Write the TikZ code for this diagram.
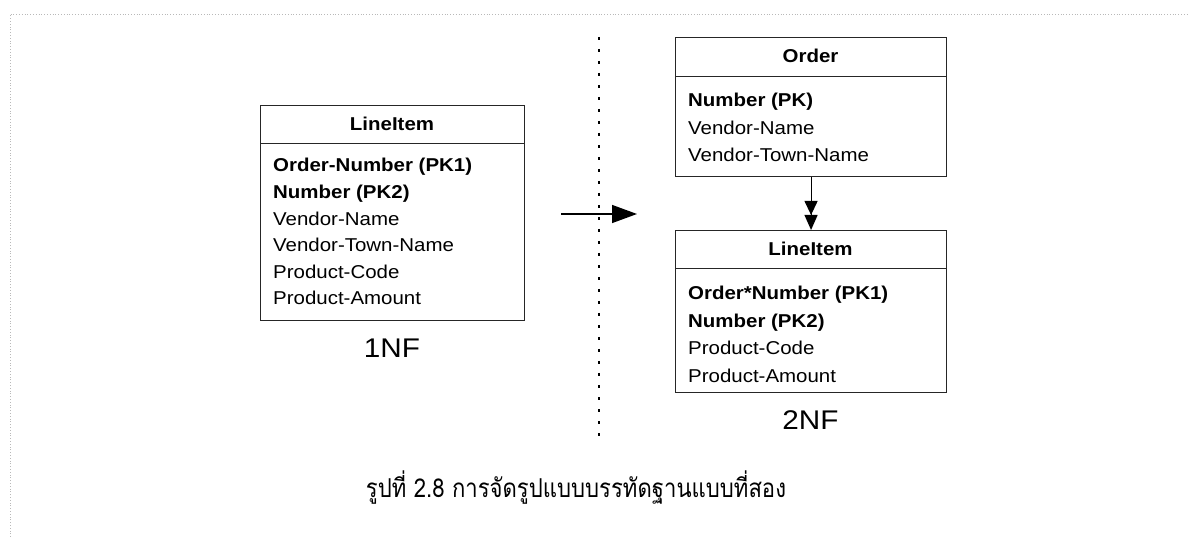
\documentclass[tikz,border=0pt]{standalone}
\usepackage{fontspec}
\setmainfont{Liberation Sans}[FakeStretch=1.1]
\newfontfamily\thaifont[Script=Thai,FakeStretch=0.85]{Loma}
\usetikzlibrary{arrows.meta}
\tikzset{
  tbl/.style={draw=black!85, line width=1.1pt, inner sep=0pt, anchor=north west, minimum width=#1},
  row/.style={anchor=base west, inner sep=0pt, font=\fontsize{18.6}{22}\selectfont},
  rowb/.style={anchor=base west, inner sep=0pt, font=\bfseries\fontsize{18.6}{22}\selectfont},
  title/.style={anchor=base, inner sep=0pt, font=\bfseries\fontsize{18.6}{22}\selectfont},
  nf/.style={anchor=base, inner sep=0pt, font=\fontsize{27}{30}\selectfont},
}
\begin{document}
\begin{tikzpicture}[x=1pt,y=-1pt]
\useasboundingbox (0,0) rectangle (1189,537);
% page border
\draw[gray!55, dotted, line width=0.8pt] (10,537) -- (10,14) -- (1189,14);
% divider
\draw[line width=2.4pt, dash pattern=on 2.8pt off 9.2pt] (599,37) -- (599,437);

% Left table
\node[tbl=264pt, minimum height=38pt] (Lh) at (260,105) {};
\node[tbl=264pt, minimum height=177pt] (Lb) at (260,143) {};
\node[title] (LhT) at (392,131) {LineItem};
\node[rowb] (l1) at (273,172) {Order-Number (PK1)};
\node[rowb] (l2) at (273,198.6) {Number (PK2)};
\node[row] (l3) at (273,225.2) {Vendor-Name};
\node[row] (l4) at (273,251.8) {Vendor-Town-Name};
\node[row] (l5) at (273,278.4) {Product-Code};
\node[row] (l6) at (273,305) {Product-Amount};
\node[nf] (n1) at (392,358) {1NF};

% Order table
\node[tbl=271pt, minimum height=39pt] (Oh) at (675,37) {};
\node[tbl=271pt, minimum height=100pt] (Ob) at (675,76) {};
\node[title] (OhT) at (810.5,63) {Order};
\node[rowb] (o1) at (688,107) {Number (PK)};
\node[row] (o2) at (688,134.5) {Vendor-Name};
\node[row] (o3) at (688,162) {Vendor-Town-Name};

% Right LineItem table
\node[tbl=271pt, minimum height=38pt] (Rh) at (675,230) {};
\node[tbl=271pt, minimum height=124pt] (Rb) at (675,268) {};
\node[title] (RhT) at (810.5,256) {LineItem};
\node[rowb] (r1) at (688,300) {Order*Number (PK1)};
\node[rowb] (r2) at (688,327) {Number (PK2)};
\node[row] (r3) at (688,355) {Product-Code};
\node[row] (r4) at (688,382) {Product-Amount};
\node[nf] (n2) at (810.5,429) {2NF};

% connectors
\draw[line width=1.1pt, -{Triangle[length=14pt,width=13pt]Triangle[length=15pt,width=13pt]}] (Ob.south) -- (Rh.north);
\coordinate (as) at (561,214);
\coordinate (ae) at (637,214);
\draw[line width=1.4pt, -{Triangle[length=25pt,width=18pt]}] (as) -- (ae);

% caption
\node[anchor=base, inner sep=0pt, font=\thaifont\fontsize{26}{30}\selectfont] (cap) at (576,497) {รูปที่ 2.8 การจัดรูปแบบบรรทัดฐานแบบที่สอง};
\end{tikzpicture}
\end{document}
